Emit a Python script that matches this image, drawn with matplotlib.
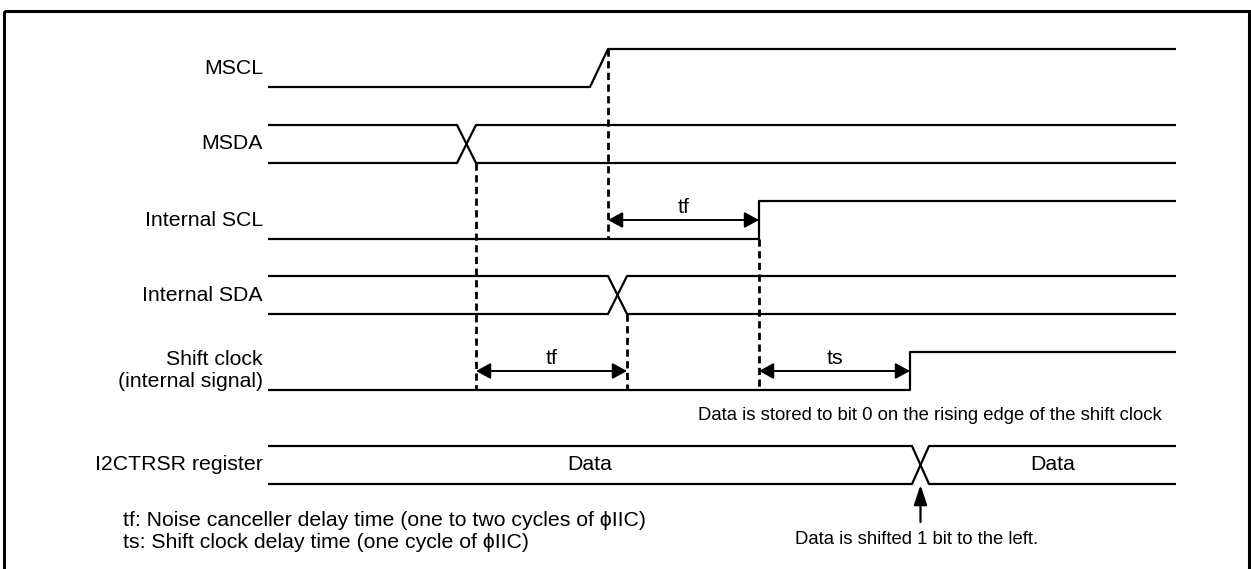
import matplotlib.pyplot as plt
from matplotlib.patches import Rectangle

plt.rcParams["font.family"] = ["Liberation Sans", "DejaVu Sans"]

# canvas in pixel units (y grows downward)
W, H = 1251, 569
X0, X1 = 268, 1176           # start / end of every trace

# signal names and the y of each trace (high, low)
names = ["MSCL", "MSDA", "Internal SCL", "Internal SDA",
         "Shift clock\n(internal signal)", "I2CTRSR register"]
name_y = [68, 143, 220, 295, 370, 464]
hi = [49, 125, 201, 276, 352, 446]
lo = [87, 163, 239, 314, 390, 484]

# transitions: (start, end) of each edge
mscl_edge = (590, 608)
msda_cross = (457, 476)
iscl_edge = 759
isda_cross = (608, 627)
shift_edge = 910
reg_cross = (912, 929)

# dashed guides: x, y top, y bottom
guides_x = [476, 608, 627, 759]
guides_top = [163, 49, 314, 239]
guides_bot = [390, 239, 390, 390]

# delay arrows
delay_names = ["tf", "tf", "ts"]
delay_from = [608, 476, 759]
delay_to = [759, 627, 910]
delay_y = [220, 371, 371]

reg_values = ["Data", "Data"]
notes = ["tf: Noise canceller delay time (one to two cycles of \u03d5IIC)",
         "ts: Shift clock delay time (one cycle of \u03d5IIC)"]

fig = plt.figure(figsize=(W / 100, H / 100), dpi=100)
ax = fig.add_axes([0, 0, 1, 1])
ax.set_xlim(0, W)
ax.set_ylim(H, 0)
ax.axis("off")

lw = 1.6
k = dict(color="black", lw=lw, solid_capstyle="butt")
fs = 15.3      # labels, delay names, notes
fs_small = 13.3  # the two "Data is ..." remarks

# outer frame (bottom edge falls outside the picture)
ax.add_patch(Rectangle((4, 11), 1245, 580, fill=False, lw=2.2, ec="black",
                       clip_on=True))


def bus(i, x_a, x_b):
    """Two-rail bus with a crossing between x_a and x_b."""
    ax.plot([X0, x_a, x_b, X1], [hi[i], hi[i], lo[i], lo[i]], **k)
    ax.plot([X0, x_a, x_b, X1], [lo[i], lo[i], hi[i], hi[i]], **k)


# MSCL: slow rise
ax.plot([X0, mscl_edge[0], mscl_edge[1], X1], [lo[0], lo[0], hi[0], hi[0]], **k)
bus(1, *msda_cross)
ax.plot([X0, iscl_edge, iscl_edge, X1], [lo[2], lo[2], hi[2], hi[2]], **k)
bus(3, *isda_cross)
ax.plot([X0, shift_edge, shift_edge, X1], [lo[4], lo[4], hi[4], hi[4]], **k)
bus(5, *reg_cross)

for x, y0, y1 in zip(guides_x, guides_top, guides_bot):
    ax.plot([x, x], [y0, y1], color="black", lw=2.0, ls=(0, (2.6, 1.6)))

head = "<|-|>,head_length=0.55,head_width=0.3"
for t, xa, xb, y in zip(delay_names, delay_from, delay_to, delay_y):
    ax.annotate("", xy=(xb, y), xytext=(xa, y),
                arrowprops=dict(arrowstyle=head, color="black", lw=1.4,
                                mutation_scale=16, shrinkA=0, shrinkB=0))
    ax.text((xa + xb) / 2, y - 13, t, ha="center", va="center", fontsize=fs)

for n, y in zip(names, name_y):
    ax.text(263, y, n, ha="right", va="center", fontsize=fs, linespacing=1.2)

ax.text((X0 + reg_cross[0]) / 2, 464, reg_values[0], ha="center", va="center", fontsize=fs)
ax.text((reg_cross[1] + X1) / 2, 464, reg_values[1], ha="center", va="center", fontsize=fs)

ax.text(1162, 415, "Data is stored to bit 0 on the rising edge of the shift clock",
        ha="right", va="center", fontsize=fs_small)

# shift marker
xm = (reg_cross[0] + reg_cross[1]) / 2
ax.annotate("", xy=(xm, lo[5] + 1), xytext=(xm, 522),
            arrowprops=dict(arrowstyle="-|>,head_length=0.75,head_width=0.25",
                            color="black", lw=1.6,
                            mutation_scale=16, shrinkA=0, shrinkB=0))
ax.text(917, 539, "Data is shifted 1 bit to the left.", ha="center", va="center",
        fontsize=fs_small)

ax.text(123, 520, notes[0], ha="left", va="center", fontsize=fs)
ax.text(123, 543, notes[1], ha="left", va="center", fontsize=fs)

fig.savefig("out.png", dpi=100)
